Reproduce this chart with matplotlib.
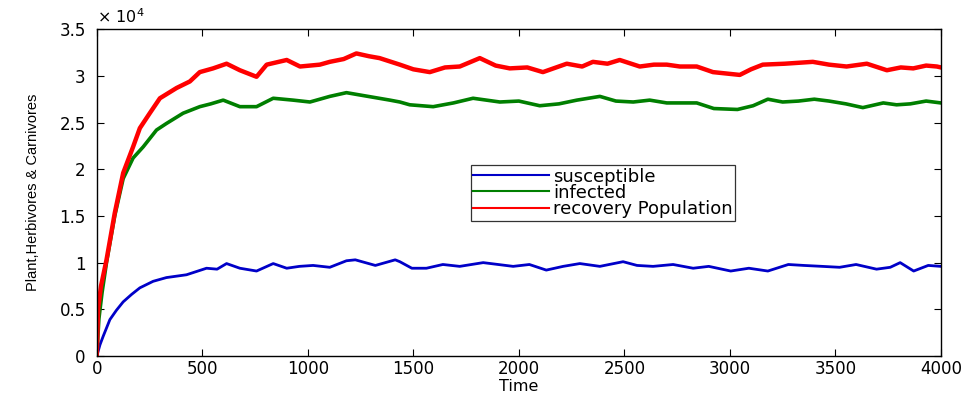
import matplotlib
matplotlib.use("Agg")
import matplotlib.pyplot as plt
from matplotlib.ticker import FuncFormatter

# values
t_s = [0, 15, 30, 62, 93, 125, 165, 204, 267, 330, 425, 520, 570, 615, 678, 757, 836, 900,
       960, 1025, 1104, 1183, 1225, 1320, 1414, 1436, 1493, 1562, 1640, 1720, 1831, 1973,
       2050, 2130, 2210, 2289, 2384, 2494, 2560, 2636, 2731, 2826, 2900, 3004, 3090, 3180,
       3277, 3350, 3437, 3520, 3598, 3695, 3760, 3807, 3871, 3940, 4000]
susceptible = [0, 1200, 2100, 3900, 4900, 5800, 6600, 7300, 8000, 8400, 8700, 9400, 9300, 9900,
               9400, 9100, 9900, 9400, 9600, 9700, 9500, 10200, 10300, 9700, 10300, 10100, 9400,
               9400, 9800, 9600, 10000, 9600, 9800, 9200, 9600, 9900, 9600, 10100, 9700, 9600,
               9800, 9400, 9600, 9100, 9400, 9100, 9800, 9700, 9600, 9500, 9800, 9300, 9500,
               10000, 9100, 9700, 9600]

t_i = [0, 10, 25, 46, 85, 125, 172, 220, 283, 330, 409, 488, 540, 599, 678, 757, 836, 930,
       1010, 1104, 1183, 1260, 1389, 1436, 1483, 1594, 1690, 1783, 1910, 2000, 2099, 2190,
       2275, 2384, 2460, 2542, 2620, 2701, 2843, 2924, 3036, 3110, 3180, 3250, 3325, 3400,
       3470, 3550, 3630, 3727, 3790, 3855, 3930, 4000]
infected = [0, 4000, 6800, 10000, 15000, 19000, 21200, 22400, 24200, 24900, 26000, 26700,
            27000, 27400, 26700, 26700, 27600, 27400, 27200, 27800, 28200, 27900, 27400, 27200,
            26900, 26700, 27100, 27600, 27200, 27300, 26800, 27000, 27400, 27800, 27300, 27200,
            27400, 27100, 27100, 26500, 26400, 26800, 27500, 27200, 27300, 27500, 27300, 27000,
            26600, 27100, 26900, 27000, 27300, 27100]

t_r = [0, 6, 20, 46, 85, 125, 172, 204, 251, 299, 378, 441, 488, 551, 615, 678, 757, 805,
       900, 963, 1057, 1104, 1170, 1230, 1290, 1340, 1436, 1500, 1578, 1650, 1720, 1815, 1890,
       1957, 2040, 2114, 2227, 2300, 2351, 2420, 2478, 2573, 2640, 2701, 2763, 2843, 2920,
       3047, 3100, 3156, 3260, 3393, 3470, 3553, 3649, 3744, 3810, 3869, 3930, 3981, 4000]
recovered = [0, 5000, 7500, 10300, 15300, 19600, 22400, 24400, 26000, 27600, 28700, 29400,
             30400, 30800, 31300, 30600, 29900, 31200, 31700, 31000, 31200, 31500, 31800,
             32400, 32100, 31900, 31200, 30700, 30400, 30900, 31000, 31900, 31100, 30800,
             30900, 30400, 31300, 31000, 31500, 31300, 31700, 31000, 31200, 31200, 31000,
             31000, 30400, 30100, 30700, 31200, 31300, 31500, 31200, 31000, 31300, 30600,
             30900, 30800, 31100, 31000, 30900]

labels = ["susceptible", "infected", "recovery Population"]
colors = ["#0000c8", "#007f00", "#ff0000"]

plt.rcParams["font.family"] = ["DejaVu Sans"]

fig = plt.figure(figsize=(9.68, 3.94), dpi=100)
ax = fig.add_axes([0.100, 0.0964, 0.872, 0.8296])

ax.plot(t_s, susceptible, color=colors[0], lw=2.0, label=labels[0])
ax.plot(t_i, infected, color=colors[1], lw=2.6, label=labels[1])
ax.plot(t_r, recovered, color=colors[2], lw=3.2, label=labels[2])

ax.set_xlim(0, 4000)
ax.set_ylim(0, 35000)
ax.set_xticks(range(0, 4001, 500))
ax.set_yticks(range(0, 35001, 5000))
ax.yaxis.set_major_formatter(FuncFormatter(lambda v, p: "%g" % (v / 1e4)))
ax.tick_params(direction="in", top=True, right=True, length=5, labelsize=12)
ax.tick_params(axis="x", pad=3)
ax.tick_params(axis="y", pad=8)
for sp in ax.spines.values():
    sp.set_linewidth(1.0)

ax.set_xlabel("Time", fontsize=11.5, labelpad=0.5)
ax.set_ylabel("Plant,Herbivores & Carnivores", fontsize=10.5, labelpad=14,
              family=["Liberation Sans Narrow", "Liberation Sans", "DejaVu Sans"])
ax.text(0.0, 1.01, r"$\times$ 10$^{4}$", transform=ax.transAxes, fontsize=11.5, va="bottom",
        ha="left")

leg = ax.legend(loc="upper left", bbox_to_anchor=(0.443, 0.585), fontsize=13, frameon=True,
                fancybox=False, edgecolor="black", handlelength=4.2, handletextpad=0.2,
                borderpad=0.15, labelspacing=-0.1, borderaxespad=0)
leg.get_frame().set_linewidth(0.9)
for line in leg.get_lines():
    line.set_linewidth(1.5)

fig.savefig("out.png", dpi=100)
